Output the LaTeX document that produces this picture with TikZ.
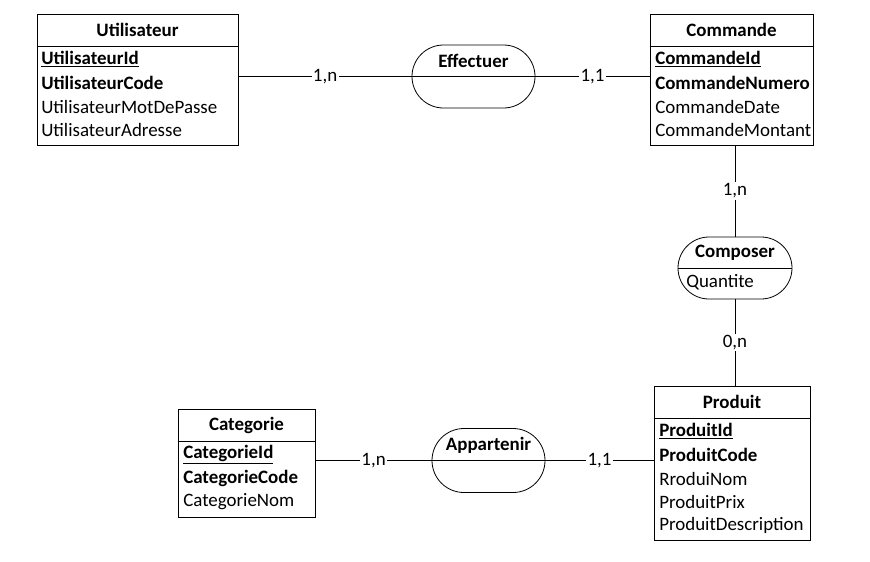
\documentclass[tikz,border=0pt]{standalone}
\usepackage{fontspec}
\setmainfont{Carlito}
\usetikzlibrary{shapes.misc}

\begin{document}
\begin{tikzpicture}[x=0.75pt,y=0.75pt,yscale=-1,
  every node/.style={font=\fontsize{14.2pt}{17pt}\selectfont,text=black},
  entite/.style={draw,line width=0.75pt,inner sep=0pt},
  assoc/.style={draw,rounded rectangle,line width=0.6pt,inner sep=0pt},
  titre/.style={font=\fontsize{14.2pt}{17pt}\selectfont\bfseries},
  attr/.style={anchor=west,inner sep=0pt},
  cle/.style={attr,font=\fontsize{14.2pt}{17pt}\selectfont\bfseries},
  card/.style={fill=white,inner sep=1pt}]
\useasboundingbox (0,0) rectangle (870,561);

%Entity: Utilisateur
\node [entite,minimum width=150.75pt,minimum height=98.25pt] (util) at (137.5,79.5) {};
\draw [line width=0.75pt] (util.west |- 0,46) -- (util.east |- 0,46) ;
\node [titre] (utilT) at (137.5,30) {Utilisateur};
\node [cle] (utilA) at (41,59.5) {\underline{UtilisateurId}};
\node [cle] (utilB) at (41,83) {UtilisateurCode};
\node [attr] (utilC) at (41,106.5) {UtilisateurMotDePasse};
\node [attr] (utilD) at (41,130) {UtilisateurAdresse};

%Entity: Commande
\node [entite,minimum width=122.25pt,minimum height=98.25pt] (cmd) at (731.5,79.5) {};
\draw [line width=0.75pt] (cmd.west |- 0,46) -- (cmd.east |- 0,46) ;
\node [titre] (cmdT) at (731.5,30) {Commande};
\node [cle] (cmdA) at (655,59.5) {\underline{CommandeId}};
\node [cle] (cmdB) at (655,83) {CommandeNumero};
\node [attr] (cmdC) at (655,106.5) {CommandeDate};
\node [attr] (cmdD) at (655,130) {CommandeMontant};

%Entity: Produit
\node [entite,minimum width=117pt,minimum height=115.5pt] (prod) at (732,463) {};
\draw [line width=0.75pt] (prod.west |- 0,418) -- (prod.east |- 0,418) ;
\node [titre] (prodT) at (732,402) {Produit};
\node [cle] (prodA) at (659,431.5) {\underline{ProduitId}};
\node [cle] (prodB) at (659,455) {ProduitCode};
\node [attr] (prodC) at (659,478.5) {RroduiNom};
\node [attr] (prodD) at (659,502) {ProduitPrix};
\node [attr] (prodE) at (659,525.5) {ProduitDescription};

%Entity: Categorie
\node [entite,minimum width=102.75pt,minimum height=81pt] (cat) at (246.5,463) {};
\draw [line width=0.75pt] (cat.west |- 0,441) -- (cat.east |- 0,441) ;
\node [titre] (catT) at (246.5,425) {Categorie};
\node [cle] (catA) at (183,454.5) {\underline{CategorieId}};
\node [cle] (catB) at (183,478) {CategorieCode};
\node [attr] (catC) at (183,501.5) {CategorieNom};

%Association: Effectuer
\node [assoc,minimum width=92.25pt,minimum height=47.25pt] (eff) at (473.5,76.5) {};
\draw [line width=0.6pt] (eff.west) -- (eff.east) ;
\node [titre] (effT) at (473.5,61) {Effectuer};

%Association: Composer
\node [assoc,minimum width=85.5pt,minimum height=46.5pt] (comp) at (735,268) {};
\draw [line width=0.6pt] (comp.west) -- (comp.east) ;
\node [titre] (compT) at (735,253) {Composer};
\node [attr] (compA) at (686,282) {Quantite};

%Association: Appartenir
\node [assoc,minimum width=84.75pt,minimum height=48pt] (app) at (488.5,460.5) {};
\draw [line width=0.6pt] (app.west) -- (app.east) ;
\node [titre] (appT) at (488.5,445) {Appartenir};

% Links
\draw [line width=0.75pt] (util.east |- eff.west) -- node [card] {1,n} (eff.west) ;
\draw [line width=0.75pt] (eff.east) -- node [card] {1,1} (cmd.west |- eff.east) ;
\draw [line width=0.75pt] (comp.north |- cmd.south) -- node [card] {1,n} (comp.north) ;
\draw [line width=0.75pt] (comp.south) -- node [card] {0,n} (comp.south |- prod.north) ;
\draw [line width=0.75pt] (cat.east |- app.west) -- node [card] {1,n} (app.west) ;
\draw [line width=0.75pt] (app.east) -- node [card] {1,1} (prod.west |- app.east) ;

\end{tikzpicture}
\end{document}
